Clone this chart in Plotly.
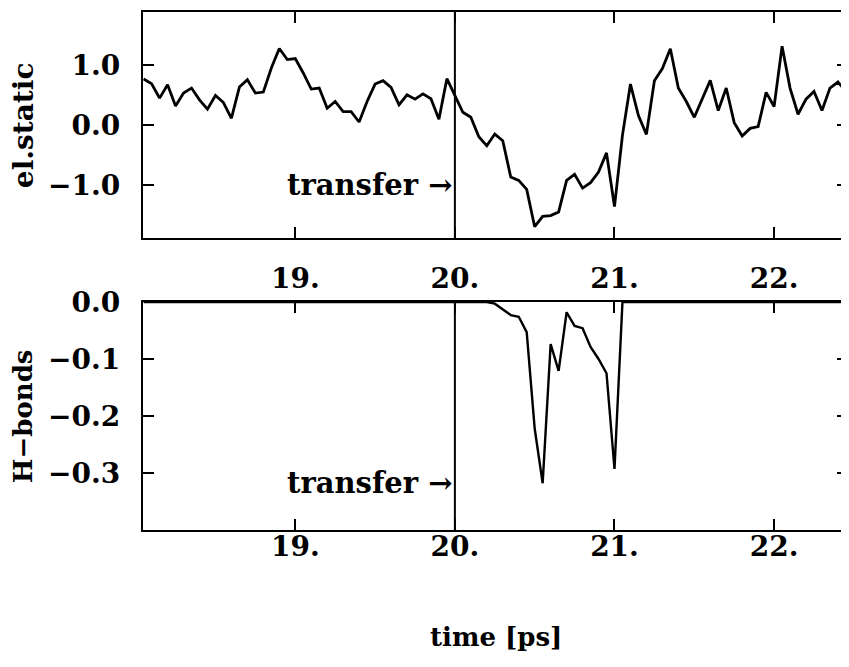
import plotly.graph_objects as go
from plotly.subplots import make_subplots

# time axis: 0.05 ps steps
time_ps = [round(18.05 + 0.05 * i, 2) for i in range(89)]

elstatic = [
    0.765, 0.687, 0.447, 0.670, 0.318, 0.531, 0.615, 0.419, 0.263, 0.491,
    0.374, 0.112, 0.631, 0.754, 0.531, 0.548, 0.949, 1.273, 1.089, 1.106,
    0.866, 0.598, 0.615, 0.279, 0.391, 0.223, 0.223, 0.050, 0.391, 0.681,
    0.737, 0.625, 0.335, 0.503, 0.430, 0.519, 0.436, 0.095, 0.771, 0.503,
    0.212, 0.128, -0.195, -0.346, -0.151, -0.262, -0.865, -0.921, -1.072, -1.692,
    -1.519, -1.508, -1.446, -0.921, -0.821, -1.050, -0.960, -0.782, -0.464, -1.357,
    -0.168, 0.681, 0.156, -0.156, 0.737, 0.938, 1.268, 0.615, 0.391, 0.128,
    0.447, 0.742, 0.240, 0.615, 0.039, -0.184, -0.056, -0.028, 0.542, 0.307,
    1.312, 0.615, 0.179, 0.430, 0.558, 0.240, 0.615, 0.715, 0.558,
]

# H-bond energy: zero outside 20.20 .. 21.05
hb_nonzero = {
    20.25: -0.003, 20.30: -0.013, 20.35: -0.023, 20.40: -0.026, 20.45: -0.053,
    20.50: -0.222, 20.55: -0.318, 20.60: -0.074, 20.65: -0.121, 20.70: -0.018,
    20.75: -0.042, 20.80: -0.046, 20.85: -0.079, 20.90: -0.100, 20.95: -0.125,
    21.00: -0.293,
}
hbonds = [hb_nonzero.get(t, 0.0) for t in time_ps]

x_tickvals = [19, 20, 21, 22]
x_ticktext = ["19.", "20.", "21.", "22."]
top_tickvals = [1.0, 0.0, -1.0]
top_ticktext = ["1.0", "0.0", "\u22121.0"]
bot_tickvals = [0.0, -0.1, -0.2, -0.3]
bot_ticktext = ["0.0", "\u22120.1", "\u22120.2", "\u22120.3"]
transfer_time = 20.0

FONT = "DejaVu Serif"
FS = 28

fig = make_subplots(rows=2, cols=1, shared_xaxes=False, vertical_spacing=0.0)
fig.add_trace(go.Scatter(x=time_ps, y=elstatic, mode="lines",
                         line=dict(color="black", width=2.8), showlegend=False), row=1, col=1)
fig.add_trace(go.Scatter(x=time_ps, y=hbonds, mode="lines",
                         line=dict(color="black", width=2.4), showlegend=False), row=2, col=1)

tfont = dict(family=FONT, size=FS, color="black", weight="bold")
xcommon = dict(range=[18.046, 22.463], tickvals=x_tickvals, ticktext=x_ticktext,
               ticks="inside", ticklen=11, tickwidth=2, tickcolor="black",
               showline=True, linewidth=2.4, linecolor="black", mirror="ticks",
               showgrid=False, zeroline=False, tickfont=tfont, automargin=False)
ycommon = dict(ticks="inside", ticklen=11, tickwidth=2, tickcolor="black",
               showline=True, linewidth=2.4, linecolor="black", mirror="ticks",
               showgrid=False, zeroline=False, ticklabelstandoff=15, tickfont=tfont,
               automargin=False)

fig.update_layout(
    width=849, height=667,
    margin=dict(l=135, r=9, t=4, b=145, autoexpand=False),
    plot_bgcolor="white", paper_bgcolor="white",
    xaxis=dict(domain=[0, 1], anchor="y", ticklabelstandoff=14, **xcommon),
    xaxis2=dict(domain=[0, 1], anchor="y2", ticklabelstandoff=-10, **xcommon),
    yaxis=dict(domain=[0.5637, 1.0], range=[-1.88, 1.88], tickvals=top_tickvals,
               ticktext=top_ticktext, anchor="x", **ycommon),
    yaxis2=dict(domain=[0.0, 0.4402], range=[-0.4, 0.0], tickvals=bot_tickvals,
                ticktext=bot_ticktext, anchor="x2", **ycommon),
)

for xr, yr in (("x", "y"), ("x2", "y2")):
    fig.add_shape(type="line", xref=xr, yref=yr + " domain", x0=transfer_time, x1=transfer_time,
                  y0=0, y1=1, line=dict(color="black", width=2))

afont = dict(family=FONT, size=29, color="black", weight="bold")
fig.add_annotation(x=transfer_time, y=-1.0, xref="x", yref="y", text="transfer \u2192",
                   showarrow=False, xanchor="right", yanchor="middle", xshift=-1, font=afont)
fig.add_annotation(x=transfer_time, y=-0.318, xref="x2", yref="y2", text="transfer \u2192",
                   showarrow=False, xanchor="right", yanchor="middle", xshift=-1, font=afont)

lfont = dict(family=FONT, size=28, color="black", weight="bold")
fig.add_annotation(x=-0.170, y=0.7818, xref="paper", yref="paper", text="el.static",
                   textangle=-90, showarrow=False, xanchor="center", yanchor="middle", font=lfont)
fig.add_annotation(x=-0.170, y=0.2201, xref="paper", yref="paper", text="H\u2212bonds",
                   textangle=-90, showarrow=False, xanchor="center", yanchor="middle",
                   font=dict(family=FONT, size=26, color="black", weight="bold"))
fig.add_annotation(x=0.5, y=-0.2066, xref="paper", yref="paper", text="time [ps]",
                   showarrow=False, xanchor="center", yanchor="middle",
                   font=dict(family=FONT, size=26, color="black", weight="bold"))

fig.write_html("out.html")
